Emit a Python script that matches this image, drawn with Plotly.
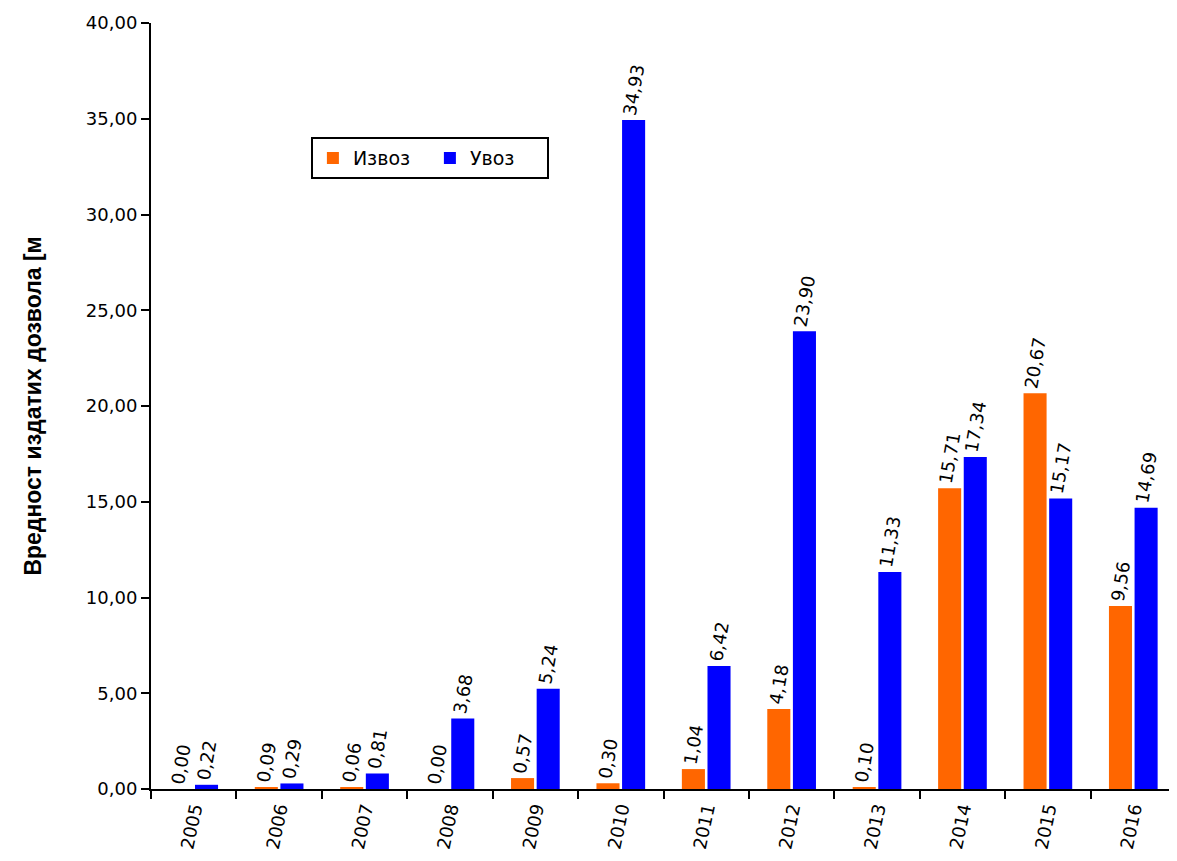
import plotly.graph_objects as go

years = ["2005", "2006", "2007", "2008", "2009", "2010", "2011", "2012", "2013", "2014", "2015", "2016"]
izvoz = [0.00, 0.09, 0.06, 0.00, 0.57, 0.30, 1.04, 4.18, 0.10, 15.71, 20.67, 9.56]
uvoz = [0.22, 0.29, 0.81, 3.68, 5.24, 34.93, 6.42, 23.90, 11.33, 17.34, 15.17, 14.69]
y_ticks = [0, 5, 10, 15, 20, 25, 30, 35, 40]

fam = "DejaVu Sans, Verdana, sans-serif"
lbl_font = dict(family=fam, size=18, color="black")
tick_font = dict(family=fam, size=18, color="black")

fig = go.Figure()
for name, vals, color in [("Извоз", izvoz, "#FF6600"), ("Увоз", uvoz, "#0000FF")]:
    fig.add_trace(go.Bar(
        x=years, y=vals, name=name,
        marker=dict(color=color, line=dict(width=0)),
        text=[f"{v:.2f}".replace(".", ",") for v in vals],
        textposition="outside", textangle=-80, constraintext="none",
        textfont=lbl_font, cliponaxis=False,
    ))

fig.update_layout(
    width=1168, height=861,
    margin=dict(l=143, r=0, t=15, b=80),
    paper_bgcolor="white", plot_bgcolor="white",
    barmode="group", bargap=0.40, bargroupgap=0.10,
    separators=",.",
    font=tick_font,
    showlegend=True,
    legend=dict(orientation="h", x=0.156, y=0.851, xanchor="left", yanchor="top",
                bordercolor="black", borderwidth=2, bgcolor="white",
                font=dict(family=fam, size=19, color="black"),
                itemwidth=30, entrywidth=72, tracegroupgap=0),
    xaxis=dict(showline=True, linecolor="black", linewidth=2, ticks="outside",
               tickson="boundaries", ticklen=8, tickcolor="black", tickwidth=2,
               tickangle=-78, tickfont=tick_font, showgrid=False),
    yaxis=dict(range=[0, 40], tickvals=y_ticks, tickformat=".2f", showline=True,
               linecolor="black", linewidth=2, ticks="outside", ticklen=8,
               tickcolor="black", tickwidth=2, showgrid=False, zeroline=False,
               tickfont=tick_font,
               title=dict(text="<b>Вредност издатих дозвола [м</b>",
                          font=dict(family="Liberation Sans Narrow, Arial Narrow, Arial, sans-serif", size=23, color="black"),
                          standoff=38)),
)

fig.write_html("out.html")
